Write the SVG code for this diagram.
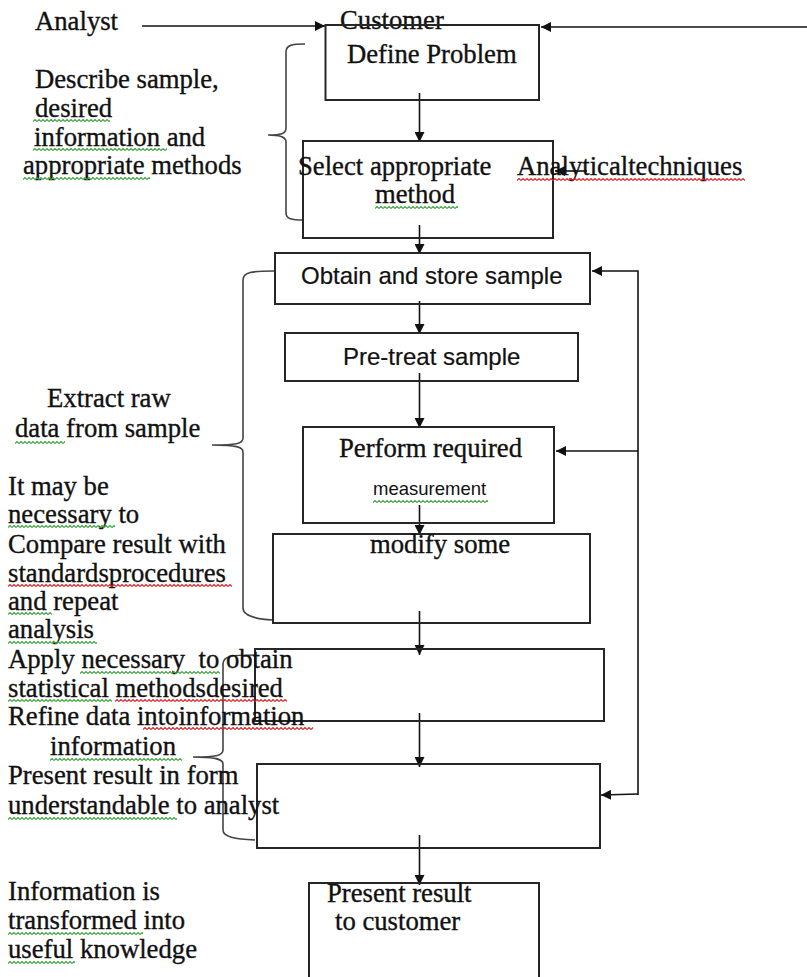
<svg xmlns="http://www.w3.org/2000/svg" width="807" height="977" viewBox="0 0 807 977">
<style>
.box{fill:none;stroke:#262626;stroke-width:2}
.con{fill:none;stroke:#111;stroke-width:1.6}
.br{fill:none;stroke:#444;stroke-width:1.6}
.s{font-family:"Liberation Serif","Times New Roman",serif;font-size:26.7px;fill:#111;stroke:#111;stroke-width:0.35}
.ss{font-family:"Liberation Sans",Arial,sans-serif;font-size:24px;fill:#111;stroke:#111;stroke-width:0.2}
.sm{font-family:"Liberation Sans",Arial,sans-serif;font-size:18.5px;fill:#111}
</style>
<defs>
<marker id="ah" markerUnits="userSpaceOnUse" markerWidth="10" markerHeight="10" refX="10" refY="5" orient="auto">
<path d="M0,0 L10,5 L0,10 z" fill="#111"/>
</marker>
<pattern id="g" patternUnits="userSpaceOnUse" width="4" height="3">
<path d="M0,2.5 L2,0.5 L4,2.5" fill="none" stroke="#3aa33a" stroke-width="1.1"/>
</pattern>
<pattern id="r" patternUnits="userSpaceOnUse" width="4" height="3">
<path d="M0,2.5 L2,0.5 L4,2.5" fill="none" stroke="#e02020" stroke-width="1.1"/>
</pattern>
</defs>
<rect width="807" height="977" fill="#fff"/>

<g id="connectors">
<path class="con" d="M142,26 L325,26" marker-end="url(#ah)"/>
<path class="con" d="M807,27 L541,27" marker-end="url(#ah)"/>
<path class="con" d="M419.5,93 L419.5,142" marker-end="url(#ah)"/>
<path class="con" d="M587,171 L555,171" marker-end="url(#ah)"/>
<path class="con" d="M419.5,225 L419.5,254" marker-end="url(#ah)"/>
<path class="con" d="M419.5,301 L419.5,334" marker-end="url(#ah)"/>
<path class="con" d="M419.5,373 L419.5,428" marker-end="url(#ah)"/>
<path class="con" d="M419.5,505 L419.5,535" marker-end="url(#ah)"/>
<path class="con" d="M419.5,611 L419.5,655" marker-end="url(#ah)"/>
<path class="con" d="M419.5,713 L419.5,767" marker-end="url(#ah)"/>
<path class="con" d="M419.5,835 L419.5,885" marker-end="url(#ah)"/>
<path class="con" d="M638,795 L638,271 L592,271" marker-end="url(#ah)"/>
<path class="con" d="M638,451 L556,451" marker-end="url(#ah)"/>
<path class="con" d="M638,794 L601,795" marker-end="url(#ah)"/>
</g>

<g id="brackets">
<path class="br" d="M305,44 C292,44 286,45 286,52 L286,128 C286,134 281,135 268,135 C281,135 286,137 286,142 L286,213 C286,219 292,220 303,220"/>
<path class="br" d="M274,271 C252,271 243,272 243,280 L243,438 C243,444 236,445 212,445 C236,445 243,447 243,452 L243,608 C243,616 255,619 273,620"/>
<path class="br" d="M255,655 C232,655 223,656 223,664 L223,750 C223,756 215,757 193,757 C215,757 223,759 223,764 L223,830 C223,837 235,839 255,840"/>
</g>

<g id="analyst"><text class="s" x="35" y="30">Analyst</text></g>
<g id="customer"><text class="s" x="340" y="29">Customer</text></g>

<g id="define-problem">
<rect class="box" x="325.5" y="25" width="213.5" height="75"/>
<text class="s" x="347" y="63">Define Problem</text>
</g>

<g id="select-method">
<rect class="box" x="303" y="141" width="250" height="97"/>
<text class="s" x="298" y="175">Select appropriate</text>
<text class="s" x="375" y="203">method</text>
</g>

<g id="analytical-techniques"><text class="s" x="517" y="175">Analyticaltechniques</text></g>

<g id="obtain-sample">
<rect class="box" x="275" y="253" width="315" height="51"/>
<text class="ss" x="301" y="284">Obtain and store sample</text>
</g>

<g id="pretreat">
<rect class="box" x="285" y="333" width="293" height="48"/>
<text class="ss" x="343" y="365">Pre-treat sample</text>
</g>

<g id="perform">
<rect class="box" x="303" y="427" width="251" height="96"/>
<text class="s" x="339" y="457">Perform required</text>
<text class="sm" x="373" y="495">measurement</text>
</g>

<g id="modify">
<rect class="box" x="273" y="534" width="317" height="89"/>
<text class="s" x="370" y="553">modify some</text>
</g>

<g id="box-statistics"><rect class="box" x="255" y="649" width="349" height="72"/></g>
<g id="box-present-analyst"><rect class="box" x="257" y="764" width="343" height="84"/></g>

<g id="present-customer">
<rect class="box" x="309" y="883" width="230" height="110"/>
<text class="s" x="327" y="902">Present result</text>
<text class="s" x="335" y="930">to customer</text>
</g>

<g id="label-describe">
<text class="s" x="35" y="88">Describe sample,</text>
<text class="s" x="35" y="117">desired</text>
<text class="s" x="34" y="146">information and</text>
<text class="s" x="23" y="174">appropriate methods</text>
</g>

<g id="label-extract">
<text class="s" x="47" y="407">Extract raw</text>
<text class="s" x="15" y="437">data from sample</text>
</g>

<g id="label-compare">
<text class="s" x="8" y="495">It may be</text>
<text class="s" x="8" y="523">necessary to</text>
<text class="s" x="8" y="553">Compare result with</text>
<text class="s" x="8" y="582">standardsprocedures</text>
<text class="s" x="8" y="610">and repeat</text>
<text class="s" x="8" y="638">analysis</text>
</g>

<g id="label-apply">
<text class="s" x="8" y="668" xml:space="preserve">Apply necessary  to obtain</text>
<text class="s" x="8" y="697">statistical methodsdesired</text>
<text class="s" x="8" y="725">Refine data intoinformation</text>
<text class="s" x="50" y="755">information</text>
</g>

<g id="label-present">
<text class="s" x="8" y="784">Present result in form</text>
<text class="s" x="8" y="814">understandable to analyst</text>
</g>

<g id="label-knowledge">
<text class="s" x="8" y="900">Information is</text>
<text class="s" x="8" y="929">transformed into</text>
<text class="s" x="8" y="958">useful knowledge</text>
</g>

<g id="squiggles">
<rect transform="translate(33,119)" width="77" height="3" fill="url(#g)"/>
<rect transform="translate(33,148)" width="134" height="3" fill="url(#g)"/>
<rect transform="translate(23,177)" width="127" height="3" fill="url(#g)"/>
<rect transform="translate(517,178)" width="228" height="3" fill="url(#r)"/>
<rect transform="translate(375,206)" width="83" height="3" fill="url(#g)"/>
<rect transform="translate(15,441)" width="50" height="3" fill="url(#g)"/>
<rect transform="translate(373,500)" width="115" height="3" fill="url(#g)"/>
<rect transform="translate(8,525)" width="107" height="3" fill="url(#g)"/>
<rect transform="translate(8,584)" width="224" height="3" fill="url(#r)"/>
<rect transform="translate(8,612)" width="44" height="3" fill="url(#g)"/>
<rect transform="translate(8,641)" width="89" height="3" fill="url(#g)"/>
<rect transform="translate(80,671)" width="140" height="3" fill="url(#g)"/>
<rect transform="translate(8,699)" width="104" height="3" fill="url(#g)"/>
<rect transform="translate(115,699)" width="172" height="3" fill="url(#r)"/>
<rect transform="translate(143,727)" width="170" height="3" fill="url(#r)"/>
<rect transform="translate(50,758)" width="132" height="3" fill="url(#g)"/>
<rect transform="translate(8,817)" width="169" height="3" fill="url(#g)"/>
<rect transform="translate(8,932)" width="135" height="3" fill="url(#g)"/>
<rect transform="translate(8,961)" width="67" height="3" fill="url(#g)"/>
</g>
</svg>
